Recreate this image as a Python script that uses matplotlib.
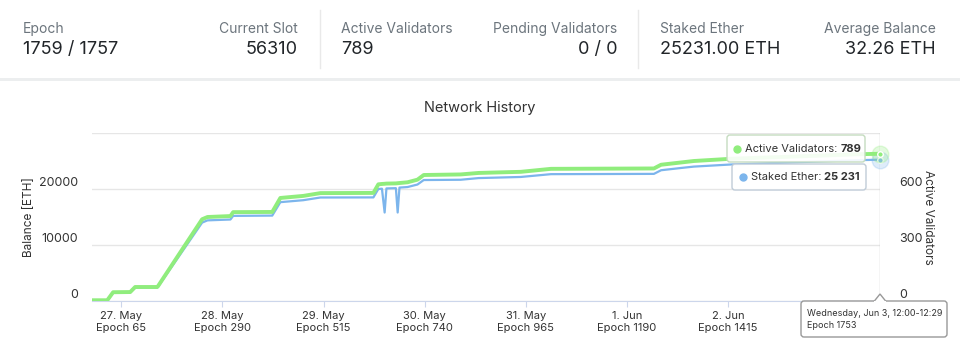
import matplotlib
matplotlib.use("Agg")
import matplotlib.pyplot as plt
from matplotlib.patches import FancyBboxPatch, Polygon

plt.rcParams['font.family'] = ['Inter', 'DejaVu Sans']

# ---------- data ----------
epochs = [0, 34, 47, 85, 96, 145, 147, 245, 257, 308, 314, 401, 419, 470, 508,
          626, 637, 645, 651, 655, 676, 680, 684, 693, 702, 724, 738, 820, 860,
          954, 1021, 1250, 1266, 1310, 1339, 1422, 1704, 1753]
active_validators = [4, 4, 47, 48, 75, 75, 80, 438, 450, 455, 476, 477, 552, 563, 578,
                     579, 625, 627, 628, 629, 630, 631, 632, 634, 636, 650, 675, 678, 686,
                     692, 708, 710, 730, 742, 750, 762, 786, 789]
staked_ether = [130, 130, 1500, 1540, 2400, 2400, 2560, 14000, 14400, 14550, 15200, 15250,
                17650, 18000, 18480, 18500, 20000, 20050, 15800, 20100, 20150, 15800,
                20250, 20300, 20350, 20800, 21600, 21650, 21950, 22150, 22650, 22700,
                23350, 23750, 24000, 24380, 25150, 25231]

tick_epochs = [65, 290, 515, 740, 965, 1190, 1415]
tick_days = ["27. May", "28. May", "29. May", "30. May", "31. May", "1. Jun", "2. Jun"]

stat_labels = ["Epoch", "Current Slot", "Active Validators", "Pending Validators",
               "Staked Ether", "Average Balance"]
stat_values = ["1759 / 1757", "56310", "789", "0 / 0", "25231.00 ETH", "32.26 ETH"]

GREEN = "#90ed7d"
BLUE = "#7cb5ec"
W, H = 960, 356

fig = plt.figure(figsize=(W / 100, H / 100), dpi=100)
fig.patch.set_facecolor("white")

# ---------- chart ----------
ax = fig.add_axes([92 / W, 1 - 301 / H, 788 / W, 168 / H])
ax2 = ax.twinx()

ax.plot(epochs, staked_ether, color=BLUE, lw=1.6, zorder=3, solid_joinstyle="round")
ax2.plot(epochs, active_validators, color=GREEN, lw=2.8, zorder=4, solid_joinstyle="round")

ax.set_xlim(0, epochs[-1])
ax.set_ylim(0, 30000)
ax2.set_ylim(0, 900)
ax.set_yticks([0, 10000, 20000, 30000])
ax.set_yticklabels(["0", "10000", "20000", ""])
ax2.set_yticks([0, 300, 600])
ax.grid(axis="y", color="#e6e6e6", lw=1)
ax.set_axisbelow(True)

ax.set_xticks(tick_epochs)
ax.set_xticklabels([f"{d}\nEpoch {e}" for d, e in zip(tick_days, tick_epochs)],
                   fontsize=8, color="#333333", linespacing=1.25)
ax.tick_params(axis="x", length=4, color="#ccd6eb", pad=3)
ax.tick_params(axis="y", length=0, labelsize=9, labelcolor="#333333", pad=10)
ax2.tick_params(axis="y", length=0, labelsize=9, labelcolor="#333333", pad=14)
for lbl in ax.get_yticklabels() + ax2.get_yticklabels():
    lbl.set_va("bottom")

for a in (ax, ax2):
    for s in a.spines.values():
        s.set_visible(False)
ax.spines["bottom"].set_visible(True)
ax.spines["bottom"].set_color("#ccd6eb")

ax.set_ylabel("Balance [ETH]", fontsize=8.5, color="#333333", labelpad=3)
ax2.set_ylabel("Active Validators", fontsize=8.5, color="#333333", rotation=-90, labelpad=8)

# hover crosshair and markers on the last point
ax.axvline(epochs[-1], color="#cccccc", lw=1, zorder=2)
ax.plot(epochs[-1], staked_ether[-1], "o", ms=12, color=BLUE, alpha=0.25, zorder=5, clip_on=False)
ax2.plot(epochs[-1], active_validators[-1], "o", ms=12, color=GREEN, alpha=0.25, zorder=5, clip_on=False)
ax.plot(epochs[-1], staked_ether[-1], "o", ms=4, color=BLUE, mec="white", zorder=6, clip_on=False)
ax2.plot(epochs[-1], active_validators[-1], "o", ms=4, color=GREEN, mec="white", zorder=6, clip_on=False)

fig.text(480 / W, 1 - 108 / H, "Network History", ha="center", va="center",
         fontsize=10.5, color="#333333")

# ---------- overlay in pixel coordinates ----------
ov = fig.add_axes([0, 0, 1, 1])
ov.set_xlim(0, W)
ov.set_ylim(H, 0)
ov.axis("off")
ov.set_zorder(10)
renderer = fig.canvas.get_renderer()

# header stats
stat_x = [23, 298, 341, 617, 660, 936]
stat_ha = ["left", "right", "left", "right", "left", "right"]
for x, ha, lab, val in zip(stat_x, stat_ha, stat_labels, stat_values):
    ov.text(x, 29, lab, ha=ha, va="center", fontsize=10, color="#6c757d")
    ov.text(x, 50, val, ha=ha, va="center", fontsize=13, color="#212529")
for x in (320, 638):
    ov.plot([x, x], [10, 68], color="#e9e9e9", lw=1)
ov.fill_between([0, W], 78, 81, color="#eceeef", lw=0)


def box(x0, y0, x1, y1, edge):
    ov.add_patch(FancyBboxPatch((x0, y0), x1 - x0, y1 - y0,
                                boxstyle="round,pad=0,rounding_size=3",
                                fc=(1, 1, 1, 0.9), ec=edge, lw=1))


def label_value(x, y, label, value):
    # normal label followed by bold value, placed right after the label
    t = ov.text(x, y, label, ha="left", va="center", fontsize=8, color="#333333")
    bb = t.get_window_extent(renderer=renderer)
    x_end = bb.x1 * W / fig.bbox.width
    ov.text(x_end + 3, y, value, ha="left", va="center", fontsize=8,
            color="#333333", fontweight="bold")


# series tooltips
box(727, 135, 865, 162, "#c5dcc0")
ov.plot(737, 148.5, "o", ms=5, color=GREEN)
label_value(745, 148.5, "Active Validators:", f"{active_validators[-1]}")

box(732, 164, 866, 190, "#c0ccd8")
ov.plot(743, 177, "o", ms=5, color=BLUE)
label_value(751, 177, "Staked Ether:", f"{staked_ether[-1]:,}".replace(",", " "))

# date tooltip
box(801, 301, 947, 337, "#999999")
ov.add_patch(Polygon([[874, 301.5], [880, 294], [886, 301.5]], closed=False,
                     fc="white", ec="#999999", lw=1))
ov.plot([875, 885], [301.5, 301.5], color="white", lw=1.5)
ov.text(807, 313, "Wednesday, Jun 3, 12:00-12:29", ha="left", va="center",
        fontsize=6.5, color="#333333")
ov.text(807, 326, "Epoch 1753", ha="left", va="center", fontsize=6.5, color="#333333")

fig.savefig("out.png", dpi=100, facecolor="white")
